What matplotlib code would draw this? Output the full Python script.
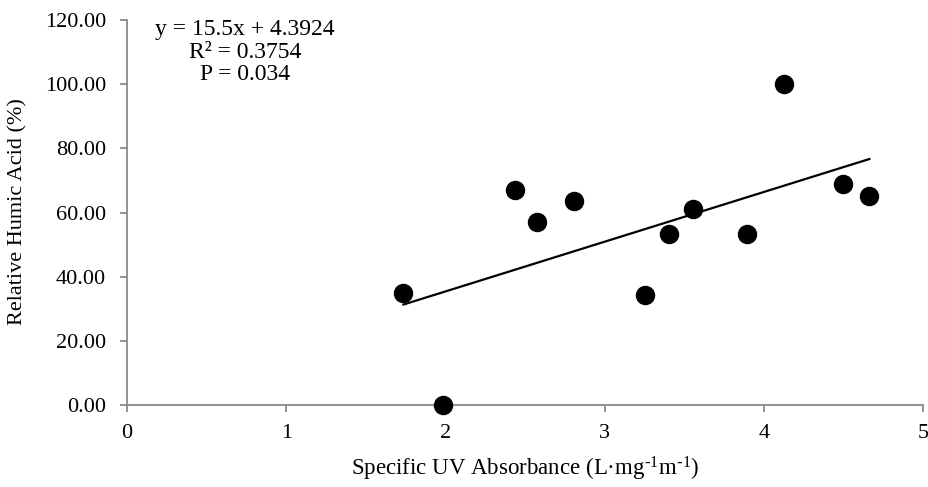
import matplotlib
matplotlib.use("Agg")
import matplotlib.pyplot as plt
import numpy as np

# specific UV absorbance vs relative humic acid
suva = [1.736, 1.987, 2.437, 2.578, 2.808, 3.256, 3.407, 3.557, 3.897, 4.127, 4.495, 4.663]
humic = [35.0, 0.0, 67.0, 57.1, 63.6, 34.2, 53.2, 61.2, 53.2, 100.1, 69.0, 65.2]

slope = 15.5
intercept = 4.3924
eq_lines = ["y = 15.5x + 4.3924", "R² = 0.3754", "P = 0.034"]

xticks = [0, 1, 2, 3, 4, 5]
yticks = [0, 20, 40, 60, 80, 100, 120]

plt.rcParams['font.family'] = ['Liberation Serif', 'DejaVu Serif']
axis_gray = '#898989'

fig = plt.figure(figsize=(9.29, 4.87), dpi=100)
ax = fig.add_axes([127/929, 82/487, 796/929, 385/487])

ax.plot(suva, humic, 'o', color='black', markersize=13, zorder=3, clip_on=False)

xs = np.array([min(suva), max(suva)])
ax.plot(xs, slope * xs + intercept, color='black', linewidth=1.6)

ax.set_xlim(0, 5)
ax.set_ylim(0, 120)
ax.set_xticks(xticks)
ax.set_yticks(yticks)
ax.set_xticklabels([str(t) for t in xticks])
ax.set_yticklabels(["%.2f" % t for t in yticks])

for s in ['top', 'right']:
  ax.spines[s].set_visible(False)
for s in ['left', 'bottom']:
  ax.spines[s].set_color(axis_gray)
  ax.spines[s].set_linewidth(1.3)
ax.tick_params(axis='both', direction='out', length=5, width=1.3, color=axis_gray,
               labelsize=16, labelcolor='black')
ax.tick_params(axis='x', pad=9)
ax.tick_params(axis='y', pad=10)

fig.text(525/929, 1 - 469/487, r"Specific UV Absorbance (L·mg$\mathregular{^{\text{-}1}}$m$\mathregular{^{\text{-}1}}$)",
         ha='center', va='center', fontsize=16.5)
fig.text(18/929, 1 - 212/487, "Relative Humic Acid (%)", rotation=90,
         ha='center', va='center', fontsize=16)

for i, line in enumerate(eq_lines):
  fig.text(245/929, 1 - (29 + 23*i)/487, line, ha='center', va='center', fontsize=17)

fig.savefig("out.png", dpi=100)
